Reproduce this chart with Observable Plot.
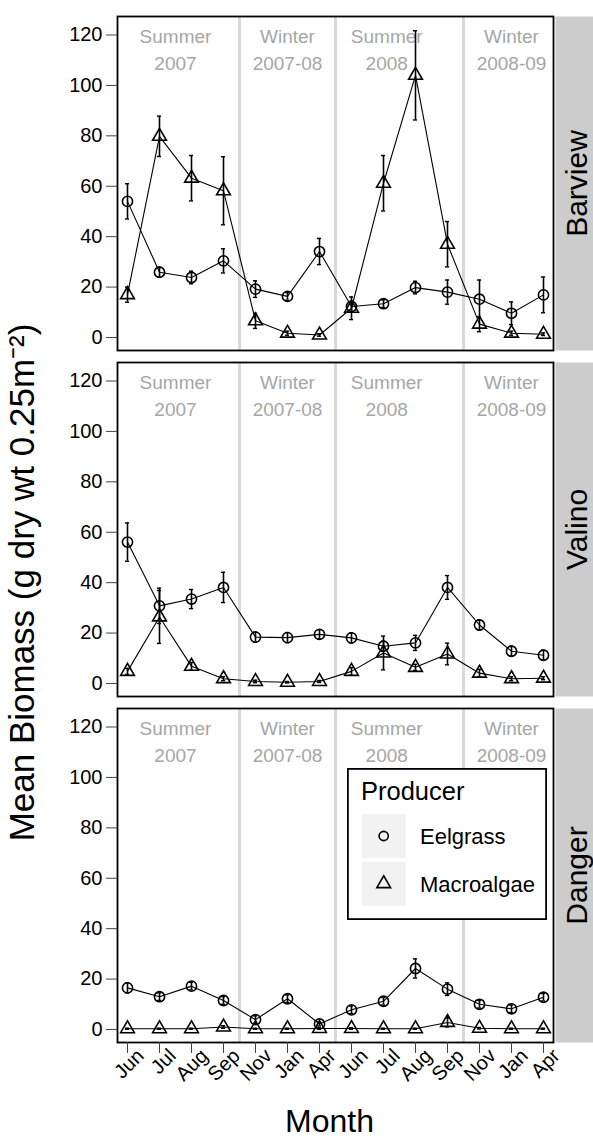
<!DOCTYPE html>
<html>
<head>
<meta charset="utf-8">
<script src="https://cdn.jsdelivr.net/npm/d3@7"></script>
<script src="https://cdn.jsdelivr.net/npm/@observablehq/plot@0.6"></script>
<style>
  body { margin: 0; background: #fff; font-family: "Liberation Sans", Arial, sans-serif; }
  #wrap { position: relative; width: 593px; height: 1138px; }
  #legend { position: absolute; left: 347px; top: 768px; }
</style>
</head>
<body>
<div id="wrap"></div>
<script>
// ---------- data ----------
const months = ["Jun","Jul","Aug","Sep","Nov","Jan","Apr","Jun","Jul","Aug","Sep","Nov","Jan","Apr"];
const sites = ["Barview", "Valino", "Danger"];
const producers = ["Eelgrass", "Macroalgae"];
const yTicks = [0, 20, 40, 60, 80, 100, 120];

const barviewEelgrassMean  = [54, 25.9, 23.8, 30.4, 19.2, 16.3, 34.1, 12.3, 13.4, 19.8, 18.0, 15.2, 9.6, 16.9];
const barviewEelgrassSE    = [7, 2, 2.5, 4.8, 3.3, 1.5, 5.2, 2, 1.5, 2.5, 4.8, 7.6, 4.5, 7.1];
const barviewMacroMean     = [17, 79.8, 63.2, 58.2, 6.6, 1.7, 1.0, 11.6, 61.2, 104, 37, 5.3, 1.7, 1.3];
const barviewMacroSE       = [3, 8, 9, 13.5, 3, 0.8, 0.5, 4.5, 11, 17.7, 9, 3, 0.8, 0.5];

const valinoEelgrassMean   = [56.1, 30.8, 33.5, 38.1, 18.4, 18.2, 19.5, 18.1, 14.8, 16.1, 38.1, 23.2, 12.8, 11.2];
const valinoEelgrassSE     = [7.6, 7, 3.8, 6, 2, 2, 1.8, 2, 2, 3, 4.7, 2, 2, 2];
const valinoMacroMean      = [4.8, 26.4, 6.8, 1.9, 0.8, 0.5, 0.8, 4.8, 12.1, 6.4, 11.7, 4.1, 1.9, 2.1];
const valinoMacroSE        = [1.2, 10.5, 1.5, 0.8, 0.5, 0.3, 0.4, 1.5, 6.7, 1.2, 4.3, 1.5, 0.8, 0.6];

const dangerEelgrassMean   = [16.5, 13.0, 17.2, 11.5, 3.9, 12.2, 2.2, 7.8, 11.2, 24.2, 16.0, 10.0, 8.2, 12.8];
const dangerEelgrassSE     = [2, 1.5, 1.5, 1.5, 1.5, 1.5, 0.8, 1.5, 1.5, 3.8, 2.5, 1.5, 1.5, 1.5];
const dangerMacroMean      = [0.3, 0.3, 0.3, 1.0, 0.3, 0.3, 0.4, 0.4, 0.3, 0.3, 2.8, 0.5, 0.3, 0.3];
const dangerMacroSE        = [0.2, 0.2, 0.2, 0.5, 0.2, 0.2, 0.3, 0.3, 0.2, 0.2, 1.8, 0.3, 0.2, 0.2];

// seasons: label, first month index, label x (month-index units)
const seasonLabels = ["Summer\n2007", "Winter\n2007-08", "Summer\n2008", "Winter\n2008-09"];
const seasonStart  = [0, 4, 7, 11];
const seasonLabelX = [1.5, 5, 8.1, 12];

const legendTitle = "Producer";
const xTitle = "Month";
const yTitle = "Mean Biomass (g dry wt 0.25m\u207B\u00B2)";

// ---------- table ----------
const series = [
  ["Barview", "Eelgrass", barviewEelgrassMean, barviewEelgrassSE],
  ["Barview", "Macroalgae", barviewMacroMean, barviewMacroSE],
  ["Valino", "Eelgrass", valinoEelgrassMean, valinoEelgrassSE],
  ["Valino", "Macroalgae", valinoMacroMean, valinoMacroSE],
  ["Danger", "Eelgrass", dangerEelgrassMean, dangerEelgrassSE],
  ["Danger", "Macroalgae", dangerMacroMean, dangerMacroSE]
];
const rows = series.flatMap(([site, producer, m, se]) =>
  m.map((v, i) => ({site, producer, i, month: months[i], mean: v, lo: Math.max(0, v - se[i]), hi: v + se[i]})));

const seasons = seasonLabels.map((label, k) => ({label, x: seasonLabelX[k], start: seasonStart[k]}));
const boundaries = seasons.slice(1).map(s => s.start - 0.5);
const monthTicks = months.map((m, i) => ({i, m, site: sites[sites.length - 1]}));

const capHalf = 0.065;
const font = '"Liberation Sans", Arial, sans-serif';

const chart = Plot.plot({
  width: 593,
  height: 1138,
  marginTop: 15,
  marginBottom: 96,
  marginLeft: 117,
  marginRight: 40,
  style: {fontFamily: font, background: "#fff", overflow: "visible"},
  x: {type: "linear", domain: [-0.3125, months.length - 1 + 0.3125], axis: null},
  y: {domain: [-5.16, 127.34], axis: null},
  fy: {domain: sites, paddingInner: 0.036, paddingOuter: 0, axis: null, label: null},
  symbol: {domain: producers, range: ["circle", "triangle"]},
  marks: [
    Plot.ruleX(boundaries, {x: d => d, stroke: "#d9d9d9", strokeWidth: 3}),
    Plot.text(seasons, {x: "x", text: "label", frameAnchor: "top", lineAnchor: "top", dy: 8.5,
      fontSize: 19, lineHeight: 1.37, fill: "#a6a6a6"}),
    Plot.line(rows, {x: "i", y: "mean", z: "producer", fy: "site", stroke: "#000", strokeWidth: 1.1}),
    Plot.ruleX(rows, {x: "i", y1: "lo", y2: "hi", fy: "site", stroke: "#000", strokeWidth: 1.6}),
    Plot.ruleY(rows, {y: "hi", x1: d => d.i - capHalf, x2: d => d.i + capHalf, fy: "site", stroke: "#000", strokeWidth: 1.4}),
    Plot.ruleY(rows, {y: "lo", x1: d => d.i - capHalf, x2: d => d.i + capHalf, fy: "site", stroke: "#000", strokeWidth: 1.4}),
    Plot.dot(rows, {x: "i", y: "mean", fy: "site", symbol: "producer", r: 5.1, stroke: "#000", strokeWidth: 1.6, fill: "none"}),
    Plot.frame({stroke: "#000", strokeWidth: 1.8}),
    Plot.frame({fill: "#cccccc", insetLeft: 438, insetRight: -40}),
    Plot.text(sites, {fy: d => d, text: d => d, frameAnchor: "right", textAnchor: "middle", rotate: -90,
      dx: 23.4, fontSize: 30, fill: "#000"}),
    Plot.text([{site: sites[1], t: yTitle}], {fy: "site", text: "t", frameAnchor: "left", textAnchor: "middle",
      rotate: -90, dx: -95.2, dy: 53, fontSize: 35, fill: "#000"}),
    Plot.text([{site: sites[2], t: xTitle}], {fy: "site", text: "t", frameAnchor: "bottom", lineAnchor: "bottom",
      dy: 89, dx: -6, fontSize: 32, fill: "#000"}),
    Plot.axisY({ticks: yTicks, tickSize: 11, tickPadding: 4, fontSize: 20, label: null, stroke: "#444", fill: "#000"}),
    Plot.axisX({ticks: d3.range(months.length), tickFormat: () => "", tickSize: 11, label: null, stroke: "#444"}),
    Plot.text(monthTicks, {x: "i", text: "m", fy: "site", frameAnchor: "bottom", rotate: -45,
      textAnchor: "end", lineAnchor: "top", dx: 7.5, dy: 4.5, fontSize: 20, fill: "#000"})
  ]
});

const wrap = document.getElementById("wrap");
wrap.appendChild(chart);

// ---------- legend (inside Danger panel) ----------
const leg = d3.create("svg").attr("id", "legend").attr("width", 200).attr("height", 152)
  .style("font-family", font);
leg.append("rect").attr("x", 0.9).attr("y", 0.9).attr("width", 198.2).attr("height", 150.2)
  .attr("fill", "#fff").attr("stroke", "#000").attr("stroke-width", 1.8);
leg.append("text").attr("x", 14).attr("y", 32).attr("font-size", 25.5).attr("fill", "#000").text(legendTitle);
producers.forEach((p, k) => {
  const y0 = 46 + k * 47.7;
  leg.append("rect").attr("x", 14.7).attr("y", y0).attr("width", 44).attr("height", 44).attr("fill", "#f2f2f2");
  if (k === 0) {
    leg.append("circle").attr("cx", 36.7).attr("cy", y0 + 22).attr("r", 4.6)
      .attr("fill", "none").attr("stroke", "#000").attr("stroke-width", 1.6);
  } else {
    leg.append("path").attr("d", d3.symbol(d3.symbolTriangle, Math.PI * 5.1 * 5.1)())
      .attr("transform", `translate(36.7,${y0 + 22})`)
      .attr("fill", "none").attr("stroke", "#000").attr("stroke-width", 1.6);
  }
  leg.append("text").attr("x", 73).attr("y", y0 + 30).attr("font-size", 22).attr("fill", "#000").text(p);
});
wrap.appendChild(leg.node());
</script>
</body>
</html>
